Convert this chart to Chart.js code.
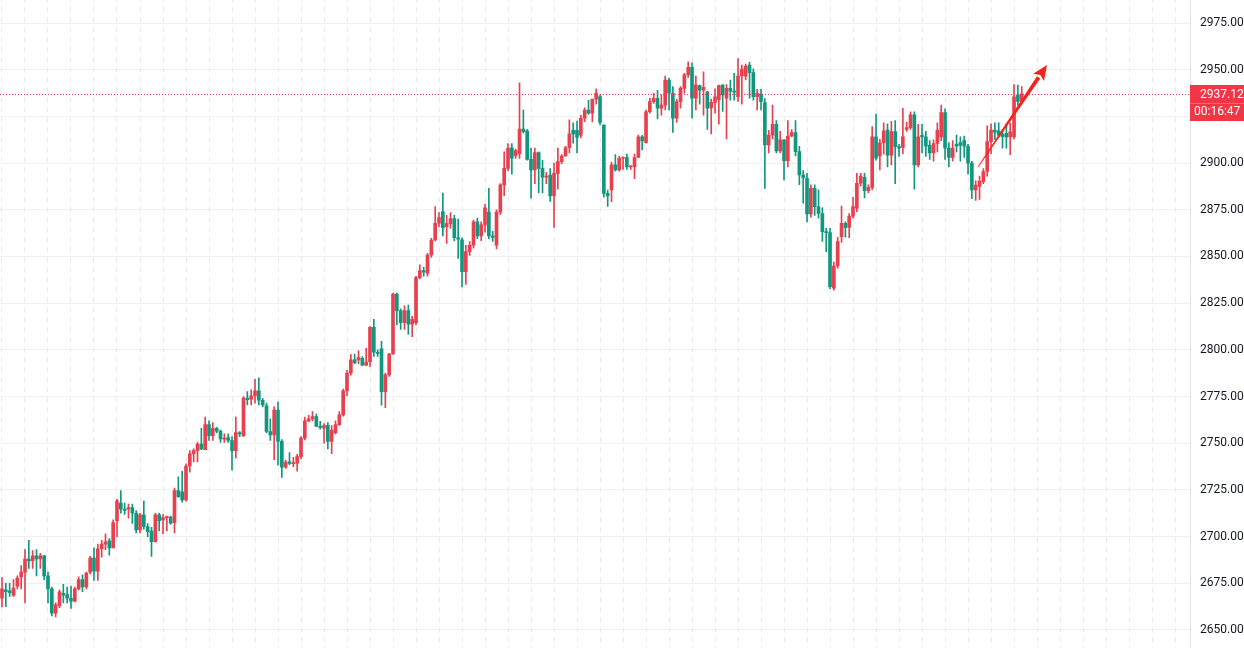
<!DOCTYPE html>
<html>
<head>
<meta charset="utf-8">
<script src="https://cdn.jsdelivr.net/npm/chart.js@4"></script>
<style>
  html, body { margin: 0; padding: 0; background: #fff; overflow: hidden; }
  /* canvas is taller than the window so the plot area bleeds past top and bottom */
  #chart { display: block; margin-top: -40px; }
</style>
</head>
<body>
<canvas id="chart" width="1244" height="728"></canvas>
<script>
// OHLC, one entry per candle, oldest first
const opens = [
  2667, 2671.5, 2671, 2668.5, 2673.5, 2678.4, 2681, 2688, 2687, 2689.7,
  2688, 2689.7, 2679, 2672, 2659, 2663, 2669.6, 2669, 2667, 2665.5,
  2672, 2677, 2673, 2681, 2688.5, 2681.5, 2693.5, 2696, 2697.7, 2694,
  2708.5, 2717.9, 2714.7, 2714.7, 2715.6, 2712.5, 2703.6, 2711.6, 2705.4, 2703,
  2697.3, 2711.6, 2708.9, 2710.2, 2710.4, 2707.5, 2724.6, 2724, 2719.7, 2737.8,
  2744.3, 2746, 2749.6, 2746.5, 2760, 2754, 2758, 2756.5, 2752.2, 2753,
  2751.4, 2746, 2755.7, 2754, 2774.2, 2773.6, 2775.4, 2778, 2773, 2770,
  2756.3, 2754.5, 2767.8, 2751, 2737.2, 2740, 2739, 2739.3, 2742.8, 2752.7,
  2762, 2763, 2764.3, 2759, 2758, 2759.6, 2751, 2755.5, 2760, 2765.2,
  2778, 2787.5, 2794.6, 2794.6, 2795.5, 2791.8, 2793.7, 2812, 2798.7, 2800.5,
  2777.6, 2786.6, 2797.8, 2829.9, 2821, 2814.6, 2821, 2813.7, 2814.6, 2838.7,
  2842.4, 2841, 2850.8, 2858.8, 2867.8, 2874, 2866, 2867.6, 2870.3, 2860,
  2858.9, 2841.9, 2852.6, 2856, 2868.5, 2861, 2866.9, 2873.7, 2861, 2856,
  2873.7, 2888.3, 2897.2, 2908.2, 2904, 2905, 2918.2, 2917.3, 2902, 2896.3,
  2905.6, 2897.2, 2892.4, 2893.6, 2882.4, 2894.5, 2900.8, 2903.8, 2908.2, 2917.6,
  2917.6, 2915, 2924, 2928.4, 2926.7, 2934.2, 2935.6, 2920.4, 2883.8, 2885.6,
  2899, 2896.3, 2902.6, 2903, 2898, 2898, 2903, 2914.1, 2910.9, 2927.5,
  2932.9, 2934.7, 2929.4, 2931, 2944.5, 2937.4, 2924, 2932.9, 2940, 2947.2,
  2951.3, 2934.7, 2941.5, 2939, 2938.2, 2929.5, 2932.5, 2934, 2941.8, 2934.7,
  2940, 2938.5, 2935.6, 2946.6, 2946.5, 2952.5, 2948.4, 2935.6, 2937, 2932.4,
  2909.7, 2915, 2920.8, 2906.5, 2912.4, 2901.3, 2914.5, 2916.3, 2906.1, 2893.6,
  2891.9, 2872.8, 2886.5, 2876.6, 2873, 2863.3, 2862.8, 2833, 2844.9, 2860.6,
  2867.8, 2865.6, 2871.6, 2875.8, 2889.2, 2892.4, 2885.2, 2887, 2914.1, 2903.8,
  2910.9, 2917.7, 2904.3, 2916.8, 2908.8, 2908.4, 2918, 2919, 2925.8, 2899,
  2914.8, 2914, 2909.5, 2905.5, 2910.5, 2914, 2927, 2908, 2903, 2910,
  2911, 2912, 2909, 2900, 2885.6, 2887.5, 2890, 2895.5, 2911.5, 2917.7,
  2917.2, 2915.4, 2915.9, 2914, 2914, 2936.5, 2933
];
const highs = [
  2678, 2675, 2675, 2677, 2679, 2684.5, 2693, 2698, 2692.5, 2693,
  2691, 2690, 2681, 2673, 2664.5, 2671.5, 2674.5, 2673, 2673.5, 2673,
  2678.5, 2679.5, 2681, 2689.5, 2694, 2696, 2698, 2701.5, 2699, 2709,
  2720, 2724.6, 2717.9, 2717.4, 2717.4, 2714, 2712.5, 2719, 2707, 2705,
  2712.5, 2712.5, 2711.9, 2711, 2711, 2726, 2732, 2735, 2739, 2746,
  2747, 2750.5, 2758, 2764, 2762, 2761, 2758.5, 2757, 2755, 2755,
  2753.5, 2764, 2756.2, 2775, 2777.6, 2778.6, 2784.2, 2785, 2774, 2771.5,
  2763, 2769.5, 2772, 2752, 2741, 2745, 2742.5, 2744, 2753.5, 2764,
  2765, 2767, 2765.6, 2761.7, 2760.5, 2761, 2759.5, 2762, 2767, 2779,
  2789, 2797.5, 2797.8, 2799.5, 2796.4, 2800.8, 2812.5, 2816.3, 2800, 2804.5,
  2787.5, 2798.1, 2830.4, 2830.4, 2822, 2823.6, 2824, 2818, 2839.3, 2845.5,
  2844.3, 2851.7, 2859.7, 2876.7, 2873.5, 2884, 2872, 2873.5, 2872, 2870,
  2860, 2856, 2858, 2869.5, 2870.5, 2868.5, 2878, 2886.5, 2863.5, 2875,
  2889, 2906, 2910.5, 2910.5, 2907.5, 2943, 2928.4, 2918, 2908, 2908,
  2906, 2901.5, 2895, 2897, 2900, 2908, 2904.5, 2909, 2923.2, 2921.5,
  2922.5, 2925.5, 2929.6, 2933.6, 2934, 2939.8, 2936.5, 2920.5, 2885.6, 2900.5,
  2904.5, 2903.8, 2903.3, 2904.8, 2898.6, 2904.8, 2915, 2914.8, 2928.4, 2934.7,
  2937.4, 2939, 2936.5, 2946.6, 2945.5, 2941, 2934.2, 2941, 2948, 2954.2,
  2953.7, 2946.6, 2941.8, 2948.9, 2938.5, 2934.2, 2939.8, 2941.8, 2942, 2942,
  2944.5, 2948, 2956, 2952.5, 2953, 2954, 2950.5, 2939.5, 2939.5, 2934.5,
  2917.5, 2931, 2922.7, 2917, 2912.4, 2922.7, 2918, 2922.7, 2909, 2896,
  2894.5, 2888.3, 2888.3, 2885.7, 2876, 2865, 2865, 2847, 2860.3, 2877,
  2868.5, 2873, 2881.7, 2894.5, 2894.5, 2894.5, 2888.3, 2919.5, 2926.3, 2912.7,
  2921.5, 2921, 2922.3, 2922.7, 2910, 2929.3, 2922, 2927.5, 2927.5, 2920.8,
  2920.8, 2917, 2912, 2912.5, 2921.5, 2931, 2929, 2911, 2912, 2915,
  2914, 2914.5, 2910, 2901, 2890.5, 2893, 2897, 2920, 2921, 2921.5,
  2921.5, 2918, 2921, 2921.5, 2942, 2941.8, 2941
];
const lows = [
  2662.4, 2662.5, 2668, 2668, 2672, 2672, 2664.5, 2683, 2683, 2679,
  2683, 2677, 2664.5, 2657.5, 2657, 2662, 2664.5, 2664.5, 2661.5, 2665,
  2671.5, 2670.5, 2672, 2680, 2676.5, 2676.5, 2689, 2693, 2690, 2694,
  2700, 2712.5, 2711.9, 2709.9, 2707, 2702, 2702, 2704, 2700, 2689.4,
  2697, 2703, 2701.5, 2703, 2706.5, 2702, 2721, 2718.5, 2719, 2734.5,
  2740, 2740, 2746.5, 2746.5, 2751.5, 2751.5, 2755.5, 2750.5, 2750.5, 2750.5,
  2735.6, 2742, 2753.5, 2753.5, 2770.5, 2770.5, 2771.5, 2770.5, 2769.5, 2755.5,
  2751.5, 2741.2, 2738.3, 2731.7, 2736.5, 2738.5, 2737.5, 2735, 2741.8, 2751.8,
  2761.5, 2762, 2759, 2757.5, 2750, 2747, 2744.4, 2755, 2759.5, 2764.5,
  2775.5, 2786.5, 2792.5, 2792.5, 2791.5, 2791.5, 2791, 2796.5, 2796.5, 2770.4,
  2769, 2785.8, 2797.5, 2813.3, 2811, 2811, 2808.3, 2807, 2813.5, 2838,
  2839.5, 2839.5, 2849.5, 2858.3, 2866, 2861, 2857, 2865, 2858.3, 2849,
  2833.7, 2835, 2850.5, 2854.5, 2859.5, 2858.5, 2863, 2859.5, 2858, 2854,
  2872.5, 2882.5, 2896, 2894, 2902.5, 2902.5, 2916, 2901.5, 2881.2, 2889,
  2884, 2884, 2889, 2879.5, 2865.6, 2886, 2899.5, 2903.5, 2905.5, 2910.6,
  2905.5, 2913.5, 2922.2, 2926, 2922, 2931.6, 2920.4, 2881.7, 2876.8, 2879.3,
  2895.7, 2895.7, 2896.6, 2896.6, 2896.6, 2891.6, 2903, 2907, 2910.7, 2926.7,
  2932, 2923.6, 2925.7, 2928.4, 2928.4, 2916.4, 2921.8, 2929.4, 2937.4, 2945.8,
  2924, 2928.4, 2931.6, 2925.7, 2918, 2915.6, 2926.7, 2920.8, 2927.7, 2913,
  2933.7, 2933.7, 2933, 2931.5, 2944.5, 2934.7, 2933.7, 2928.5, 2928.5, 2886.4,
  2905.5, 2913, 2905.5, 2905.5, 2891, 2898, 2914, 2903.8, 2888.5, 2878.5,
  2868.5, 2871, 2872, 2870.5, 2858, 2852.5, 2832.8, 2832, 2843.7, 2857.5,
  2860.3, 2860, 2870.5, 2874, 2887.7, 2881.3, 2884, 2885.7, 2901.5, 2896.3,
  2904.8, 2898, 2899, 2889, 2903.5, 2905, 2917, 2918, 2886, 2898,
  2905.5, 2903.5, 2902, 2901, 2906, 2912, 2902, 2898, 2901, 2906,
  2901, 2903, 2894, 2881, 2880, 2880.5, 2889, 2893, 2905, 2912.5,
  2914, 2908, 2908, 2904.5, 2913, 2931, 2931.5
];
const closes = [
  2672, 2670.5, 2670, 2672.5, 2677.8, 2681, 2688, 2687, 2689.7, 2688,
  2689.7, 2679, 2672, 2659, 2663.5, 2670.5, 2668.7, 2667, 2665.5, 2672,
  2677, 2673, 2680.5, 2688.5, 2681.5, 2693.5, 2696, 2697.2, 2694, 2707.5,
  2719.2, 2714.7, 2714, 2715.6, 2712.5, 2703.6, 2711.6, 2705.4, 2702.7, 2697.3,
  2711.6, 2708.6, 2710.2, 2710.7, 2707.2, 2724.6, 2721.4, 2719.7, 2737.8, 2744.3,
  2746, 2749.6, 2747, 2760, 2754, 2758, 2756.5, 2752.3, 2752.6, 2751.5,
  2746, 2755.7, 2755, 2774.2, 2773.3, 2775.4, 2778, 2773, 2770.5, 2756.3,
  2754.5, 2767.8, 2751, 2737.2, 2739.9, 2739.2, 2739.6, 2742.8, 2752.7, 2762,
  2763, 2764.3, 2759, 2758.4, 2759.5, 2751, 2757, 2760, 2765.2, 2778,
  2787.5, 2794.6, 2793.2, 2795.8, 2791.8, 2793.5, 2812, 2798.7, 2798.1, 2777.6,
  2786.6, 2797.8, 2829.9, 2821, 2814.6, 2821, 2813.7, 2816.4, 2838.7, 2842.4,
  2841.6, 2850.8, 2858.8, 2867.8, 2870.8, 2865.4, 2867.6, 2870.3, 2860, 2859.2,
  2841.9, 2852.6, 2856, 2868.5, 2861, 2866.9, 2876.1, 2861, 2860.2, 2873.7,
  2888.3, 2897.2, 2907.9, 2902.6, 2906.7, 2918.2, 2916.8, 2902, 2896.3, 2905.6,
  2897.2, 2892.4, 2893, 2882.4, 2894.5, 2900.8, 2903.8, 2908.2, 2915.6, 2915.6,
  2913.7, 2924, 2928.4, 2926.7, 2934.2, 2937.4, 2921.8, 2883.8, 2882.4, 2899,
  2896.3, 2902.6, 2903, 2898, 2898.4, 2903, 2914.1, 2911.9, 2927.5, 2932.9,
  2934.7, 2929.4, 2931, 2944.5, 2937.4, 2924, 2932.9, 2940, 2947.2, 2951.3,
  2934.7, 2941.8, 2939, 2940.5, 2929.4, 2932.5, 2935.5, 2941.5, 2936.5, 2940,
  2938.5, 2938, 2946.6, 2950.3, 2952, 2948.4, 2935.6, 2937.3, 2932.9, 2909.7,
  2915, 2920.8, 2906.5, 2912.4, 2901.3, 2914.5, 2916.3, 2906.1, 2893.6, 2892.2,
  2872.8, 2886.5, 2876.6, 2873, 2863.3, 2862.8, 2833.8, 2844.9, 2858, 2867.8,
  2865.4, 2871.6, 2876.7, 2889.2, 2893.1, 2885.2, 2887, 2914.1, 2902.6, 2910.9,
  2917.3, 2904.3, 2916.8, 2908.8, 2908, 2914, 2919, 2925.8, 2899, 2914.1,
  2914, 2909, 2905.5, 2910.5, 2917.7, 2927, 2908, 2903, 2908, 2909,
  2909.5, 2909, 2900, 2885.6, 2888.2, 2890.4, 2895.5, 2911.5, 2917.7, 2916.6,
  2915, 2914.1, 2914, 2916.7, 2935.5, 2933, 2937.12
];

// price axis ticks and the live price tag
const priceTicks = [2650, 2675, 2700, 2725, 2750, 2775, 2800, 2825, 2850, 2875, 2900, 2925, 2950, 2975];
const lastPrice = 2937.12;
const countdown = '00:16:47';

// hand-drawn arrow, in candle index / price units
const arrowStart = { x: 254.6, y: 2897.9 };
const arrowEnd = { x: 272.6, y: 2952.5 };

const UP = '#e8404f';
const DOWN = '#12977f';
const TAG = '#f23645';
const ARROW = '#f4231c';

// page offset of the canvas, and where the top/bottom price ticks sit on the page
const SHIFT = 40;
const TOP_TICK_Y = 23;
const BOTTOM_TICK_Y = 630;

const idx = closes.map((c, i) => i);
const colors = idx.map(i => closes[i] >= opens[i] ? UP : DOWN);

// fit the visible price range to the plot area once its size is known
const priceRange = {
  id: 'priceRange',
  afterLayout(chart) {
    const y = chart.scales.y;
    const hi = priceTicks[priceTicks.length - 1], lo = priceTicks[0];
    const k = (BOTTOM_TICK_Y - TOP_TICK_Y) / (hi - lo);
    y.max = hi + (TOP_TICK_Y + SHIFT - y.top) / k;
    y.min = lo - (y.bottom - BOTTOM_TICK_Y - SHIFT) / k;
    y.configure();
  }
};

const overlay = {
  id: 'overlay',
  afterDraw(chart) {
    const { ctx, chartArea, scales: { x, y } } = chart;
    const py = Math.round(y.getPixelForValue(lastPrice)) + 0.5;

    ctx.save();
    // dotted last-price line
    ctx.strokeStyle = TAG;
    ctx.lineWidth = 1;
    ctx.setLineDash([1, 2]);
    ctx.beginPath();
    ctx.moveTo(chartArea.left, py);
    ctx.lineTo(chartArea.right, py);
    ctx.stroke();
    ctx.setLineDash([]);

    // arrow: tapered shaft + head
    const x0 = x.getPixelForValue(arrowStart.x), y0 = y.getPixelForValue(arrowStart.y);
    const x1 = x.getPixelForValue(arrowEnd.x), y1 = y.getPixelForValue(arrowEnd.y);
    const ang = Math.atan2(y1 - y0, x1 - x0);
    const headLen = 15, headW = 6.5;
    const bx = x1 - headLen * Math.cos(ang), by = y1 - headLen * Math.sin(ang);
    const nx = -Math.sin(ang), ny = Math.cos(ang);
    ctx.fillStyle = ARROW;
    ctx.beginPath();
    ctx.moveTo(x0 + nx * 0.4, y0 + ny * 0.4);
    ctx.lineTo(bx + nx * 2, by + ny * 2);
    ctx.lineTo(bx - nx * 2, by - ny * 2);
    ctx.lineTo(x0 - nx * 0.4, y0 - ny * 0.4);
    ctx.closePath();
    ctx.fill();
    ctx.beginPath();
    ctx.moveTo(x1, y1);
    ctx.lineTo(bx + nx * headW, by + ny * headW);
    ctx.lineTo(bx + Math.cos(ang) * 3, by + Math.sin(ang) * 3);
    ctx.lineTo(bx - nx * headW, by - ny * headW);
    ctx.closePath();
    ctx.fill();

    // price tag on the axis
    const tx = chartArea.right;
    const top = Math.round(py - 9.5);
    ctx.fillStyle = TAG;
    ctx.fillRect(tx, top, chart.width - tx, 36);
    ctx.fillStyle = 'rgba(255,255,255,0.25)';
    ctx.fillRect(tx, top + 18, chart.width - tx, 1);
    ctx.fillStyle = '#ffffff';
    ctx.textBaseline = 'middle';
    ctx.textAlign = 'left';
    ctx.font = '12px Roboto';
    ctx.fillText(lastPrice.toFixed(2), tx + 10, top + 9.5);
    ctx.fillText(countdown, tx + 4, top + 27);
    ctx.restore();
  }
};

const ctx = document.getElementById('chart').getContext('2d');
new Chart(ctx, {
  type: 'bar',
  data: {
    datasets: [
      {
        label: 'body',
        data: idx.map(i => ({ x: i, y: [opens[i], closes[i]] })),
        backgroundColor: colors,
        barThickness: 3,
        minBarLength: 1,
        grouped: false,
        order: 0
      },
      {
        label: 'wick',
        data: idx.map(i => ({ x: i, y: [lows[i], highs[i]] })),
        backgroundColor: colors,
        barThickness: 1,
        grouped: false,
        order: 1
      }
    ]
  },
  options: {
    responsive: false,
    animation: false,
    layout: { padding: 0 },
    plugins: { legend: { display: false }, tooltip: { enabled: false } },
    scales: {
      x: {
        type: 'linear',
        offset: false,
        min: -0.52,
        max: 309.9,
        afterBuildTicks: scale => {
          const t = [];
          for (let v = 3; v <= 309; v += 6) t.push({ value: v });
          scale.ticks = t;
        },
        ticks: { display: false },
        grid: { color: '#e9e9e9', drawTicks: false },
        border: { display: false, dash: [5, 5] }
      },
      y: {
        position: 'right',
        min: 2600,
        max: 3000,
        afterBuildTicks: scale => { scale.ticks = priceTicks.map(v => ({ value: v })); },
        afterFit: scale => { scale.width = 54; },
        ticks: {
          color: '#131722',
          padding: 10,
          font: { family: 'Roboto', size: 12 },
          callback: v => v.toFixed(2)
        },
        grid: { color: '#f0f0f0', drawTicks: false },
        border: { display: true, color: '#e0e3eb' }
      }
    }
  },
  plugins: [priceRange, overlay]
});
</script>
</body>
</html>
